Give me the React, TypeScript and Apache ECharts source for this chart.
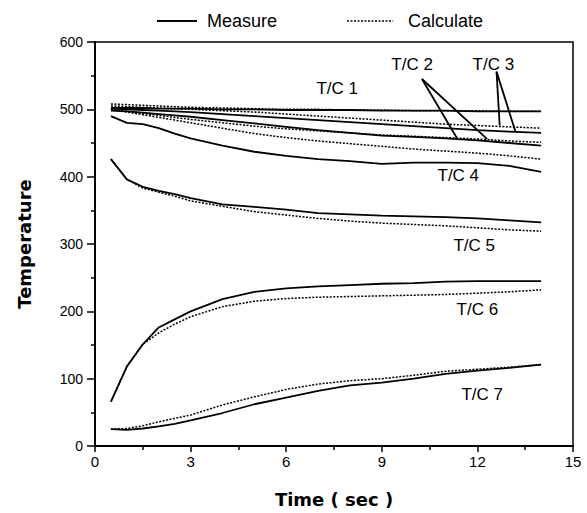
import React, { useEffect, useRef } from "react";
import * as echarts from "echarts";

const times = [0.5, 1, 1.5, 2, 2.5, 3, 4, 5, 6, 7, 8, 9, 10, 11, 12, 13, 14];

const tc1Measure = [502, 502, 502, 501, 501, 501, 500, 500, 499, 499, 499, 498, 498, 498, 497, 497, 497];
const tc1Calc = [508, 507, 506, 505, 504, 503, 502, 501, 500, 500, 499, 499, 498, 498, 498, 497, 497];
const tc2Measure = [498, 497, 495, 493, 491, 489, 484, 479, 474, 469, 465, 461, 459, 457, 454, 450, 446];
const tc2Calc = [500, 497, 494, 491, 488, 485, 480, 475, 471, 468, 465, 462, 460, 458, 456, 453, 451];
const tc3Measure = [501, 500, 499, 498, 497, 496, 493, 490, 487, 484, 481, 478, 475, 472, 469, 467, 465];
const tc3Calc = [505, 504, 503, 502, 501, 500, 498, 496, 493, 490, 487, 484, 481, 478, 476, 474, 472];
const tc4Measure = [490, 480, 478, 472, 464, 457, 446, 437, 431, 426, 423, 419, 421, 421, 420, 416, 407];
const tc4Calc = [500, 496, 492, 488, 484, 480, 472, 464, 458, 453, 449, 445, 441, 438, 435, 431, 426];
const tc5Measure = [426, 396, 385, 379, 374, 368, 359, 355, 351, 346, 344, 342, 341, 340, 338, 335, 332];
const tc5Calc = [426, 396, 383, 377, 371, 364, 356, 348, 343, 338, 334, 331, 329, 327, 324, 321, 319];
const tc6Measure = [66, 118, 151, 176, 188, 200, 218, 229, 234, 237, 239, 241, 242, 244, 245, 245, 245];
const tc6Calc = [66, 118, 151, 168, 181, 192, 207, 215, 219, 221, 222, 223, 224, 225, 227, 229, 232];
const tc7Measure = [25, 24, 26, 29, 33, 38, 49, 62, 72, 82, 90, 94, 100, 107, 112, 116, 121];
const tc7Calc = [25, 26, 30, 36, 41, 46, 61, 73, 84, 92, 97, 100, 105, 111, 114, 117, 121];

const measureSeries = [tc1Measure, tc2Measure, tc3Measure, tc4Measure, tc5Measure, tc6Measure, tc7Measure];
const calcSeries = [tc1Calc, tc2Calc, tc3Calc, tc4Calc, tc5Calc, tc6Calc, tc7Calc];

const labelTexts = ["T/C 1", "T/C 2", "T/C 3", "T/C 4", "T/C 5", "T/C 6", "T/C 7"];
const labelTimes = [7.6, 9.95, 12.5, 11.4, 11.9, 12.0, 12.15];
const labelValues = [531, 566, 566, 402, 298, 203, 76];

// leader lines: [fromT, fromV, toT, toV]
const leaderLines = [
  [10.26, 545, 11.36, 457],
  [10.26, 545, 12.3, 456],
  [12.6, 556, 12.7, 476],
  [12.6, 556, 13.2, 466],
];

const legendNames = ["Measure", "Calculate"];

const xMin = 0, xMax = 15, xInterval = 3;
const yMin = 0, yMax = 600, yInterval = 100;

export default function App() {
  const ref = useRef<HTMLDivElement>(null);
  useEffect(() => {
    document.body.style.margin = "0";
    if (!ref.current) return;
    const chart = echarts.init(ref.current, undefined, { renderer: "svg" });
    const series: any[] = [];
    measureSeries.forEach((arr) => {
      series.push({
        name: legendNames[0],
        type: "line",
        symbol: "none",
        lineStyle: { color: "#000", width: 1.8 },
        itemStyle: { color: "#000" },
        data: times.map((t, i) => [t, arr[i]]),
      });
    });
    calcSeries.forEach((arr) => {
      series.push({
        name: legendNames[1],
        type: "line",
        symbol: "none",
        lineStyle: { color: "#000", width: 1.5, type: [2, 1.5] },
        itemStyle: { color: "#000" },
        data: times.map((t, i) => [t, arr[i]]),
      });
    });
    chart.setOption({
      animation: false,
      backgroundColor: "#fff",
      grid: { left: 95, right: 14, top: 42, bottom: 65, show: true, borderColor: "#000", borderWidth: 1.5 },
      xAxis: {
        type: "value",
        min: xMin,
        max: xMax,
        interval: xInterval,
        name: "Time ( sec )",
        nameLocation: "middle",
        nameGap: 44,
        nameTextStyle: { fontSize: 18, fontWeight: "bold", fontFamily: "DejaVu Sans", color: "#000" },
        axisLine: { show: true, lineStyle: { color: "#000", width: 2 } },
        axisTick: { show: true, length: 6, lineStyle: { color: "#000", width: 1.5 } },
        minorTick: { show: true, splitNumber: 2, length: 4, lineStyle: { color: "#000", width: 1.5 } },
        splitLine: { show: false },
        axisLabel: { fontSize: 15, fontFamily: "Liberation Sans", color: "#000", margin: 8 },
      },
      yAxis: {
        type: "value",
        min: yMin,
        max: yMax,
        interval: yInterval,
        name: "Temperature",
        nameLocation: "middle",
        nameGap: 62,
        nameTextStyle: { fontSize: 18, fontWeight: "bold", fontFamily: "DejaVu Sans", color: "#000" },
        axisLine: { show: true, lineStyle: { color: "#000", width: 2 } },
        axisTick: { show: true, length: 8, lineStyle: { color: "#000", width: 1.5 } },
        minorTick: { show: true, splitNumber: 2, length: 4, lineStyle: { color: "#000", width: 1.5 } },
        splitLine: { show: false },
        axisLabel: { fontSize: 14, fontFamily: "Liberation Sans", color: "#000", margin: 12 },
      },
      series,
    });

    const graphic: any[] = [];
    // legend drawn as graphic
    graphic.push({
      type: "line",
      shape: { x1: 157, y1: 21, x2: 197, y2: 21 },
      style: { stroke: "#000", lineWidth: 1.8 },
    });
    graphic.push({
      type: "text",
      x: 207,
      y: 21,
      style: { text: legendNames[0], fill: "#000", font: "18px 'Liberation Sans'", verticalAlign: "middle", align: "left" },
    });
    graphic.push({
      type: "line",
      shape: { x1: 347, y1: 21, x2: 393, y2: 21 },
      style: { stroke: "#000", lineWidth: 1.5, lineDash: [2, 1.5] },
    });
    graphic.push({
      type: "text",
      x: 408,
      y: 21,
      style: { text: legendNames[1], fill: "#000", font: "18px 'Liberation Sans'", verticalAlign: "middle", align: "left" },
    });

    labelTexts.forEach((txt, i) => {
      const p = chart.convertToPixel({ gridIndex: 0 }, [labelTimes[i], labelValues[i]]) as number[];
      graphic.push({
        type: "text",
        x: p[0],
        y: p[1],
        style: {
          text: txt,
          fill: "#000",
          font: "17px 'Liberation Sans'",
          align: "center",
          verticalAlign: "middle",
        },
      });
    });
    leaderLines.forEach((l) => {
      const a = chart.convertToPixel({ gridIndex: 0 }, [l[0], l[1]]) as number[];
      const b = chart.convertToPixel({ gridIndex: 0 }, [l[2], l[3]]) as number[];
      graphic.push({
        type: "line",
        shape: { x1: a[0], y1: a[1], x2: b[0], y2: b[1] },
        style: { stroke: "#000", lineWidth: 1.8 },
      });
    });
    chart.setOption({ graphic });

    return () => chart.dispose();
  }, []);
  return <div ref={ref} style={{ width: 587, height: 513 }} />;
}
